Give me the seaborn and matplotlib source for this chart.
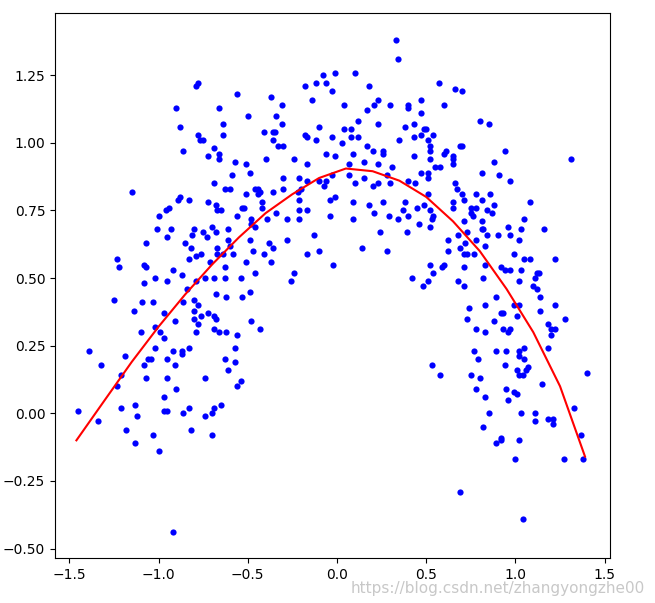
import numpy as np
import pandas as pd
import matplotlib
matplotlib.use("Agg")
import matplotlib.pyplot as plt
import seaborn as sns

# scatter points
x_pts = [
    -1.25, -1.09, -1.03, -1.14, -0.97, -0.91, -0.86, -0.80, -0.80, -0.78, -0.68, -0.62, -0.53, -0.49,
    -0.76, -0.72, -0.69, -0.68, -0.80, -0.78, -0.79, -0.69, -0.66, -0.62, -0.56, -0.48, -0.43,
    -1.10, -1.02, -0.99, -0.97, -1.39, -1.32, -1.19, -1.02, -1.06, -1.04, -1.08, -0.95, -0.92,
    -0.91, -0.87, -0.87, -0.83, -0.57, -0.63, -0.57, -0.61, -1.21, -1.23, -1.07, -0.95, -0.74,
    -0.54, -0.56, -0.90, -0.97, -1.45, -1.34, -1.21, -1.13, -1.12, -0.97, -0.95, -0.83, -0.86,
    -0.69, -0.65, -0.70, -0.74, -1.18, -1.03, -0.82, -0.70, -1.13, -1.00, -0.92,
    0.74, 0.83, 0.89, 0.99, 1.02, 1.14, 1.14, 1.22, 1.28, 0.73, 0.78, 0.83, 0.88, 0.92, 0.93,
    1.01, 0.93, 0.97, 0.96, 1.18, 1.20, 1.22, 1.20, 1.18, 0.53, 0.58, 0.77, 0.79, 0.89, 0.95,
    0.94, 1.02, 1.02, 1.05, 1.05, 1.01, 1.06, 1.07, 1.02, 1.04, 0.75, 0.80, 0.78, 0.83, 0.95,
    0.99, 1.01, 0.96, 1.15, 1.40, 1.33, 0.85, 1.03, 1.11, 1.11, 1.18, 1.21, 1.21, 0.82, 0.92,
    0.92, 0.89, 1.02, 1.37, 1.00, 1.27, 1.38, 0.69, 1.04,
    -0.79, -0.78, -0.56, -0.37, -0.31, -0.18, -0.12, -0.08, -0.06, -0.01, -0.03, -0.14, -0.90,
    -0.66, -0.50, -0.34, -0.64, -0.31, -0.88, -0.78, -0.64, -0.41, -0.36, -0.35, -0.36, -0.18,
    -0.17, -0.12, -0.10, -0.03, -0.77, -0.75, -0.86, -0.69, -0.66, -0.66, -0.72, -0.33, -0.30,
    -0.57, -0.51, -0.40, -0.24, -0.06, -0.01, -0.17, -0.59, -0.49, -0.30, -0.21, -0.10, -0.06,
    -0.03, -0.69, -0.63, -0.60, -0.46, -0.44, -0.43, -0.44, -0.51, -0.36, -0.30, -0.20, -0.22,
    -0.17, -0.07, -1.15, -0.89, -0.88, -0.83, -0.72, -0.68, -0.42, -0.04, -0.01, -0.21, -1.00,
    -0.96, -0.94, -0.67, -0.65, -0.53, -0.52, -0.42, -0.21, -0.17, -0.04, -0.56, -0.48, -0.39,
    -0.34, -0.28, -0.21, -0.70, -0.68, -0.48, -0.46, -0.61, -0.93, -1.01, -0.80, -0.75, -0.73,
    -0.81, -0.95, -0.85, -1.07, -0.61, -0.49, -0.28, -0.13, -0.38, -0.82, -0.67, -0.60, -0.36,
    -0.47, -0.41, -0.76, -0.67, -0.64, -0.58, -0.17, -0.10, -0.83, -0.79, -0.71, -1.23, -1.22,
    -1.08, -1.07, -0.51, -0.37, -0.02, -0.63, -0.46, -0.24, -0.92, -1.02, -0.95, -0.87, -0.79,
    -0.74, -0.69, -0.63, -0.54, -0.26, -1.08, -0.84,
    0.33, 0.34, 0.10, 0.18, 0.57, 0.66, 0.70, 0.04, 0.17, 0.21, 0.23, 0.30, 0.40, 0.40, 0.47,
    0.47, 0.60, 0.12, 0.23, 0.04, 0.08, 0.08, 0.12, 0.38, 0.43, 0.49, 0.50, 0.54, 0.35, 0.43,
    0.47, 0.51, 0.80, 0.85, 0.03, 0.17, 0.20, 0.26, 0.26, 0.52, 0.52, 0.61, 0.60, 0.69, 0.70,
    0.65, 0.65, 0.09, 0.43, 0.52, 0.94, 1.31, 0.07, 0.15, 0.23, 0.31, 0.55, 0.58, 0.65, 0.88,
    0.07, 0.15, 0.28, 0.47, 0.51, 0.51, 0.81, 0.91, 0.97, 0.10, 0.20, 0.23, 0.30, 0.40, 0.44,
    0.66, 0.67, 0.70, 0.78, 0.86, 0.51, 0.71, 0.81, 0.09, 0.26, 0.38, 0.49, 0.65, 0.88, 1.08,
    0.18, 0.45, 0.37, 0.52, 0.65, 0.75, 0.78, 0.84, 0.21, 0.29, 0.40, 0.75, 0.87, 0.76, 0.09,
    0.34, 0.53, 0.54, 0.71, 0.81, 1.05, 0.46, 0.52, 0.81, 0.82, 0.96, 1.16, 0.24, 0.39, 0.68,
    0.73, 0.84, 0.90, 0.97, 1.03, 0.62, 0.72, 0.78, 0.83, 1.02, 0.14, 0.28, 0.62, 0.69, 0.71,
    0.73, 0.77, 0.99, 1.05, 1.08, 1.22, 0.60, 0.52, 0.59, 0.71, 0.83, 0.92, 0.94, 0.97, 1.03,
    1.12, 1.13, 0.42, 0.51, 0.54, 0.68, 0.82, 1.02, 1.11, 0.48, 0.71, 1.10, 1.12,
]
y_pts = [
    0.42, 0.41, 0.41, 0.38, 0.37, 0.34, 0.41, 0.42, 0.38, 0.40, 0.44, 0.43, 0.43, 0.45,
    0.36, 0.37, 0.36, 0.35, 0.35, 0.33, 0.30, 0.31, 0.30, 0.30, 0.29, 0.34, 0.31,
    0.30, 0.32, 0.30, 0.28, 0.23, 0.18, 0.21, 0.24, 0.20, 0.20, 0.18, 0.20, 0.23,
    0.18, 0.23, 0.22, 0.24, 0.24, 0.20, 0.19, 0.16, 0.14, 0.10, 0.13, 0.13, 0.13,
    0.12, 0.10, 0.09, 0.06, 0.01, -0.03, 0.02, 0.03, -0.01, 0.01, 0.01, 0.02, 0.00,
    0.02, 0.03, 0.00, -0.01, -0.06, -0.08, -0.06, -0.08, -0.11, -0.14, -0.44,
    0.39, 0.40, 0.43, 0.40, 0.40, 0.43, 0.38, 0.40, 0.35, 0.35, 0.31, 0.30, 0.34, 0.37, 0.37,
    0.36, 0.31, 0.31, 0.30, 0.33, 0.31, 0.31, 0.29, 0.24, 0.18, 0.14, 0.23, 0.20, 0.23, 0.23,
    0.18, 0.23, 0.21, 0.24, 0.20, 0.16, 0.16, 0.17, 0.14, 0.14, 0.14, 0.13, 0.09, 0.06, 0.09,
    0.08, 0.07, 0.05, 0.11, 0.15, 0.02, 0.00, 0.00, 0.00, -0.03, -0.02, -0.02, -0.04, -0.05, -0.09,
    -0.10, -0.11, -0.10, -0.08, -0.17, -0.17, -0.17, -0.29, -0.39,
    1.21, 1.22, 1.18, 1.17, 1.14, 1.21, 1.22, 1.25, 1.22, 1.26, 1.19, 1.16, 1.13,
    1.13, 1.10, 1.10, 1.07, 1.07, 1.06, 1.03, 1.03, 1.04, 1.04, 1.04, 1.01, 1.03,
    1.02, 1.01, 1.06, 1.02, 1.01, 1.01, 0.97, 0.98, 0.96, 0.94, 0.95, 0.99, 0.99,
    0.93, 0.92, 0.94, 0.94, 0.96, 0.95, 0.92, 0.88, 0.89, 0.87, 0.87, 0.86, 0.86,
    0.88, 0.85, 0.83, 0.83, 0.83, 0.83, 0.82, 0.81, 0.81, 0.82, 0.83, 0.83, 0.82,
    0.86, 0.84, 0.82, 0.79, 0.80, 0.79, 0.78, 0.77, 0.78, 0.79, 0.80, 0.79, 0.73,
    0.75, 0.76, 0.75, 0.75, 0.76, 0.76, 0.76, 0.75, 0.75, 0.73, 0.73, 0.72, 0.72,
    0.74, 0.72, 0.72, 0.69, 0.67, 0.70, 0.69, 0.68, 0.68, 0.68, 0.68, 0.67, 0.65,
    0.66, 0.65, 0.63, 0.63, 0.64, 0.64, 0.64, 0.66, 0.63, 0.61, 0.61, 0.62, 0.61,
    0.60, 0.59, 0.59, 0.59, 0.59, 0.59, 0.59, 0.60, 0.57, 0.58, 0.56, 0.57, 0.54,
    0.55, 0.54, 0.56, 0.56, 0.55, 0.54, 0.52, 0.52, 0.53, 0.50, 0.49, 0.51, 0.49,
    0.50, 0.50, 0.50, 0.50, 0.49, 0.48, 0.46,
    1.38, 1.31, 1.26, 1.21, 1.22, 1.20, 1.19, 1.14, 1.12, 1.14, 1.16, 1.14, 1.13, 1.14, 1.16,
    1.11, 1.14, 1.08, 1.07, 1.05, 1.05, 1.02, 1.02, 1.06, 1.07, 1.05, 1.05, 1.03, 1.01, 1.02,
    1.03, 1.01, 1.08, 1.07, 1.00, 0.99, 0.97, 0.97, 0.96, 0.99, 0.97, 0.97, 0.96, 0.99, 0.99,
    0.95, 0.94, 0.96, 0.95, 0.94, 0.97, 0.94, 0.92, 0.93, 0.92, 0.91, 0.91, 0.91, 0.92, 0.93,
    0.88, 0.87, 0.88, 0.89, 0.89, 0.87, 0.89, 0.88, 0.86, 0.85, 0.84, 0.85, 0.85, 0.86, 0.85,
    0.85, 0.83, 0.81, 0.81, 0.81, 0.81, 0.79, 0.79, 0.78, 0.78, 0.78, 0.77, 0.78, 0.77, 0.78,
    0.77, 0.76, 0.75, 0.75, 0.76, 0.76, 0.76, 0.75, 0.74, 0.73, 0.73, 0.74, 0.74, 0.73, 0.72,
    0.72, 0.72, 0.73, 0.71, 0.71, 0.72, 0.70, 0.69, 0.68, 0.68, 0.69, 0.68, 0.67, 0.67, 0.66,
    0.67, 0.66, 0.66, 0.66, 0.68, 0.64, 0.63, 0.64, 0.62, 0.64, 0.61, 0.60, 0.60, 0.61, 0.59,
    0.59, 0.59, 0.59, 0.57, 0.57, 0.57, 0.55, 0.55, 0.54, 0.54, 0.55, 0.54, 0.53, 0.53, 0.53,
    0.52, 0.52, 0.50, 0.49, 0.52, 0.49, 0.50, 0.49, 0.50, 0.47, 0.47, 0.47, 0.46,
]

# fitted curve
x_fit = [-1.46, -1.30, -1.15, -1.00, -0.85, -0.70, -0.55, -0.40, -0.25, -0.10,
         0.05, 0.20, 0.35, 0.50, 0.65, 0.80, 0.95, 1.10, 1.25, 1.39]
y_fit = [-0.10, 0.05, 0.19, 0.32, 0.44, 0.55, 0.65, 0.74, 0.81, 0.87,
         0.905, 0.895, 0.86, 0.80, 0.71, 0.60, 0.46, 0.30, 0.10, -0.16]

n = min(len(x_pts), len(y_pts))
pts = pd.DataFrame({"x": x_pts[:n], "y": y_pts[:n]})
fit = pd.DataFrame({"x": x_fit, "y": y_fit})

fig = plt.figure(figsize=(6.55, 6.03), dpi=100)
ax = fig.add_axes([55 / 655, 45 / 603, 555 / 655, 545 / 603])
sns.scatterplot(data=pts, x="x", y="y", ax=ax, color="blue", s=20, linewidth=0)
sns.lineplot(data=fit, x="x", y="y", ax=ax, color="red", sort=False)
ax.set_xlim(-1.58, 1.53)
ax.set_ylim(-0.535, 1.48)
ax.set_xticks([-1.5, -1.0, -0.5, 0.0, 0.5, 1.0, 1.5])
ax.set_yticks([-0.5, -0.25, 0.0, 0.25, 0.5, 0.75, 1.0, 1.25])
ax.set_xlabel("")
ax.set_ylabel("")
fig.text(0.985, 0.012, "https://blog.csdn.net/zhangyongzhe00", ha="right", va="bottom",
         color="#c8c8c8", fontsize=11)
fig.savefig("out.png", dpi=100)
